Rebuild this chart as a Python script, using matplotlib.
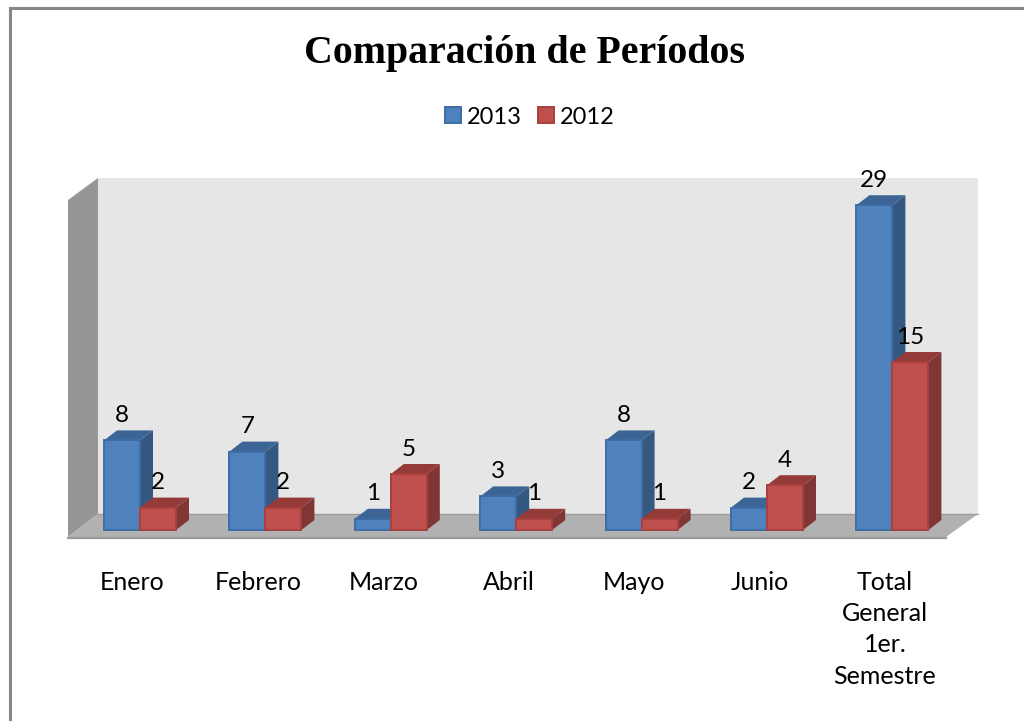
import matplotlib
matplotlib.use("Agg")
import matplotlib.pyplot as plt
from matplotlib.patches import Polygon
from matplotlib.transforms import Affine2D

categories = ["Enero", "Febrero", "Marzo", "Abril", "Mayo", "Junio",
              "Total\nGeneral\n1er.\nSemestre"]
values_2013 = [8, 7, 1, 3, 8, 2, 29]
values_2012 = [2, 2, 5, 1, 1, 4, 15]

W, H = 1024, 721
GROUP_PX = 125.4
UNIT_PX = 11.2
X0_PX, Y0_PX = 140, 530
BAR_W = 36 / GROUP_PX
DX = 13 / GROUP_PX
DY = 10 / UNIT_PX

BLUE = dict(front="#4F81BD", top="#3C6595", side="#355881", edge="#3E6DA6")
RED = dict(front="#C0504D", top="#943B39", side="#7F3634", edge="#A8403E")

fig = plt.figure(figsize=(W / 100, H / 100), dpi=100, facecolor="white")
ax = fig.add_axes([0, 0, 1, 1])
ax.set_xlim(-X0_PX / GROUP_PX, (W - X0_PX) / GROUP_PX)
ax.set_ylim((Y0_PX - H) / UNIT_PX, Y0_PX / UNIT_PX)
ax.axis("off")

# picture coordinates for the frame and the walls
px = Affine2D().scale(1 / W, -1 / H).translate(0, 1) + fig.transFigure


def shape(points, color, z):
    ax.add_patch(Polygon(points, closed=True, facecolor=color, edgecolor="none",
                         transform=px, zorder=z))


shape([(68, 200), (98, 178), (98, 514), (68, 537)], "#969696", 1)
shape([(98, 178), (978, 178), (978, 514), (98, 514)], "#E6E6E6", 1)
shape([(68, 537), (98, 514), (978, 514), (946, 537)], "#B1B1B1", 1)
ax.plot([98, 978], [514, 514], color="#9C9C9C", lw=1.0, transform=px, zorder=1.5)
ax.plot([68, 946], [538, 538], color="#999999", lw=1.6, transform=px, zorder=1.5)
ax.plot([10, 10, W], [H, 8, 8], color="#868686", lw=2.2, transform=px, zorder=1,
        solid_joinstyle="miter")


def bar3d(x, v, colors, z):
    left, right = x - BAR_W, x
    if colors is RED:
        left, right = x, x + BAR_W
    ax.add_patch(Polygon([(right, 0), (right + DX, DY), (right + DX, v + DY), (right, v)],
                         facecolor=colors["side"], edgecolor="none", zorder=z))
    ax.add_patch(Polygon([(left, v), (left + DX, v + DY), (right + DX, v + DY), (right, v)],
                         facecolor=colors["top"], edgecolor="none", zorder=z))
    bars = ax.bar(left, v, BAR_W, align="edge", color=colors["front"],
                  edgecolor=colors["edge"], linewidth=1.4, zorder=z + 0.1)
    ax.text((left + right) / 2, v + DY + 15 / UNIT_PX, str(v), ha="center", va="center",
            fontsize=17.5, family="Lato", color="black", zorder=10)
    return bars


for i in range(len(categories)):
    h1 = bar3d(i, values_2013[i], BLUE, 3)
    h2 = bar3d(i, values_2012[i], RED, 4)
    lines = categories[i].split("\n")
    for j, line in enumerate(lines):
        ax.text(i - 7.5 / GROUP_PX, (Y0_PX - 582 - 31.5 * j) / UNIT_PX, line,
                ha="center", va="center", fontsize=18, family="Lato", color="black")

fig.text(524.5 / W, 1 - 54 / H, "Comparación de Períodos", ha="center", va="center",
         fontsize=28.7, fontweight="bold", family="Liberation Serif", color="black")

leg = fig.legend([h1, h2], ["2013", "2012"], ncol=2, loc="center",
                 bbox_to_anchor=(530 / W, 1 - 117 / H), frameon=False,
                 prop=dict(family="Lato", size=17), handlelength=0.68, handleheight=0.68,
                 handletextpad=0.25, columnspacing=0.7)

fig.savefig("out.png", dpi=100)
